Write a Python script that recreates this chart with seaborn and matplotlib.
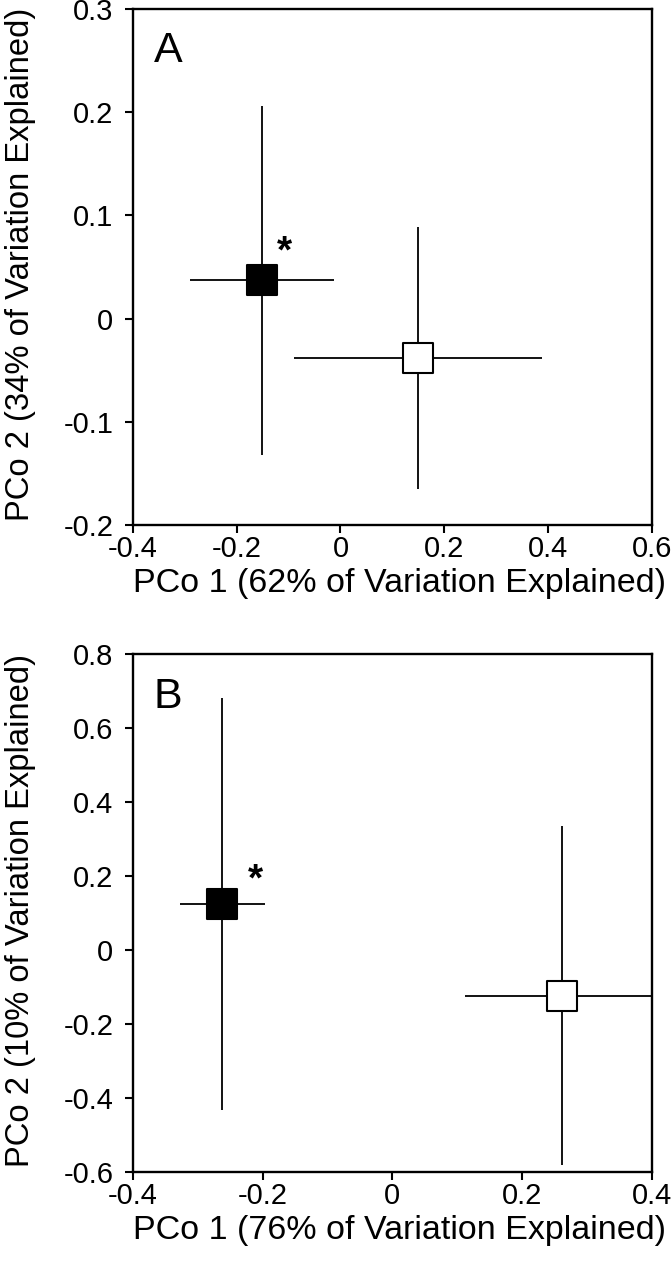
import numpy as np
import pandas as pd
import seaborn as sns
import matplotlib.pyplot as plt

# --- Data (PCoA centroids +/- spread) ---
groups = ['black', 'white']

# Panel A
a_x = [-0.151, 0.150]
a_y = [0.037, -0.038]
a_xerr = [0.139, 0.239]
a_yerr = [0.169, 0.127]

# Panel B
b_x = [-0.262, 0.262]
b_y = [0.125, -0.122]
b_xerr = [0.066, 0.150]
b_yerr = [0.556, 0.458]

a_xticks = [-0.4, -0.2, 0, 0.2, 0.4, 0.6]
a_yticks = [-0.2, -0.1, 0, 0.1, 0.2, 0.3]
b_xticks = [-0.4, -0.2, 0, 0.2, 0.4]
b_yticks = [-0.6, -0.4, -0.2, 0, 0.2, 0.4, 0.6, 0.8]

sns.set_theme(style="white")
plt.rcParams['font.family'] = ['Liberation Sans', 'DejaVu Sans']
plt.rcParams['text.color'] = 'black'
plt.rcParams['axes.labelcolor'] = 'black'
plt.rcParams['xtick.color'] = 'black'
plt.rcParams['ytick.color'] = 'black'

fig = plt.figure(figsize=(6.71, 12.74), dpi=100)
ax_a = fig.add_axes([0.198, 0.588, 0.7735, 0.405])
ax_b = fig.add_axes([0.198, 0.0797, 0.7735, 0.4067])


def fmt_tick(v):
    if v == 0:
        return '0'
    return f'{v:.1f}'


def draw_panel(ax, xs, ys, xerr, yerr, xticks, yticks, letter, star_off, xlabel, ylabel):
    df = pd.DataFrame({'x': xs, 'y': ys, 'group': groups})
    ax.errorbar(df['x'], df['y'], xerr=xerr, yerr=yerr, fmt='none',
                ecolor='black', elinewidth=1.3, capsize=0, zorder=2)
    sns.scatterplot(data=df, x='x', y='y', hue='group', marker='s', s=470,
                    palette={'black': 'black', 'white': 'white'},
                    edgecolor='black', linewidth=1.5, legend=False, ax=ax, zorder=3)
    # significance marker next to the black square
    ax.annotate('*', (xs[0], ys[0]), xytext=star_off, textcoords='offset points',
                ha='center', va='center', fontsize=28, fontweight='bold')
    ax.text(0.04, 0.897, letter, transform=ax.transAxes, fontsize=31,
            ha='left', va='baseline')
    ax.set_xlim(xticks[0], xticks[-1])
    ax.set_ylim(yticks[0], yticks[-1])
    ax.set_xticks(xticks)
    ax.set_yticks(yticks)
    ax.set_xticklabels([fmt_tick(v) for v in xticks])
    ax.set_yticklabels([fmt_tick(v) for v in yticks])
    ax.tick_params(axis='both', direction='out', length=6, width=1.5,
                   labelsize=21, pad=1, bottom=True, left=True)
    ax.tick_params(axis='y', pad=8)
    for s in ax.spines.values():
        s.set_color('black')
        s.set_linewidth(1.7)
    ax.set_xlabel(xlabel, fontsize=24.5)
    ax.set_ylabel(ylabel, fontsize=23.6)
    ax.xaxis.set_label_coords(0.514, -0.083)
    ax.yaxis.set_label_coords(-0.187, 0.505)


draw_panel(ax_a, a_x, a_y, a_xerr, a_yerr, a_xticks, a_yticks, 'A', (16, 20),
           'PCo 1 (62% of Variation Explained)', 'PCo 2 (34% of Variation Explained)')
draw_panel(ax_b, b_x, b_y, b_xerr, b_yerr, b_xticks, b_yticks, 'B', (24, 17),
           'PCo 1 (76% of Variation Explained)', 'PCo 2 (10% of Variation Explained)')

fig.savefig('out.png', dpi=100)
